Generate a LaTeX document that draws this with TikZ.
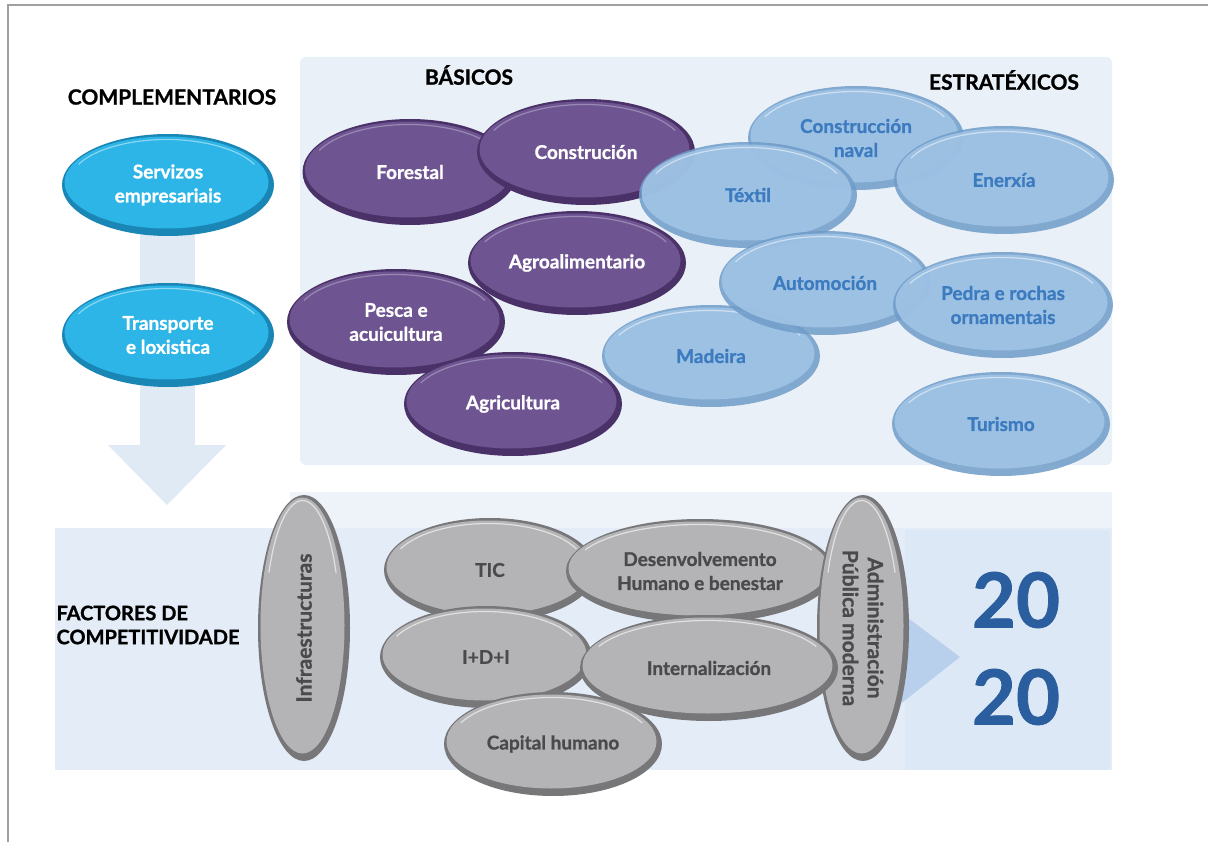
\documentclass[tikz,border=0pt]{standalone}
\usepackage{fontspec}
\setmainfont{Lato}[BoldFeatures={FakeBold=1.0}]
\usetikzlibrary{shapes.geometric}
\definecolor{cyrimc}{HTML}{1A86B5}
\definecolor{cymainc}{HTML}{2CB5E6}
\definecolor{purimc}{HTML}{4A3268}
\definecolor{pumainc}{HTML}{6E5592}
\definecolor{lbrimc}{HTML}{6F9CC8}
\definecolor{lbmainc}{HTML}{A3C6E7}
\definecolor{lbtxtc}{HTML}{3C7BC0}
\definecolor{grrimc}{HTML}{77777A}
\definecolor{grmainc}{HTML}{B4B4B7}
\definecolor{grtxtc}{HTML}{4A4A4D}
\definecolor{panelc}{HTML}{E9F0F8}
\definecolor{shaftc}{HTML}{E0EAF5}
\definecolor{bandc}{HTML}{E3ECF7}
\definecolor{bandtopc}{HTML}{EEF3FA}
\definecolor{boxc}{HTML}{DCE8F6}
\definecolor{tric}{HTML}{B8D0EC}
\definecolor{yearc}{HTML}{2B5E9E}
\definecolor{framec}{HTML}{A0A0A0}
\tikzset{
  etxt/.style={font=\fontsize{19}{24}\selectfont\bfseries, align=center},
  cyrim/.style={fill=cyrimc},
  cymain/.style={fill=cymainc},
  cyhl/.style={draw=white, draw opacity=.45, line width=1.2},
  cytxt/.style={etxt, text=white},
  purim/.style={fill=purimc},
  pumain/.style={fill=pumainc},
  puhl/.style={draw=white, draw opacity=.3, line width=1.2},
  putxt/.style={etxt, text=white},
  lbrim/.style={fill=lbrimc, fill opacity=.85},
  lbmain/.style={fill=lbmainc, fill opacity=.85},
  lbhl/.style={draw=white, draw opacity=.5, line width=1.2},
  lbtxt/.style={etxt, text=lbtxtc},
  grrim/.style={fill=grrimc},
  grmain/.style={fill=grmainc},
  grhl/.style={draw=white, draw opacity=.6, line width=1.2},
  grtxt/.style={etxt, text=grtxtc},
  vtxt/.style={font=\fontsize{21}{25}\selectfont\bfseries},
  head/.style={text=black, font=\fontsize{21}{24}\selectfont\bfseries, align=left},
  year/.style={text=yearc, font=\fontsize{76}{80}\selectfont\bfseries},
}
% #1 name, #2 family, #3 x, #4 y, #5 width, #6 height, #7 text, #8 node options
\newcommand\blob[8]{%
  \fill[#2rim] (#3,#4) ellipse [x radius=#5/2, y radius=#6/2];
  \fill[#2main] (#3-1.5,#4-2.5) ellipse [x radius=#5/2-4, y radius=#6/2-5];
  \draw[#2hl] (#3-1.5,#4-2.5) ++(205:{#5/2-9} and {#6/2-8}) arc[start angle=205, end angle=335, x radius=#5/2-9, y radius=#6/2-8];
  \node[#2txt,#8] (#1) at (#3,#4) {#7};
}
\begin{document}
\begin{tikzpicture}[x=1pt,y=-1pt]
\useasboundingbox (0,0) rectangle (1208,842);
\fill[white] (0,0) rectangle (1208,842);
% frame
\draw[framec, line width=1.5] (8,842) -- (8,5) -- (1208,5);
% panels
\fill[panelc, rounded corners=6] (300,57) rectangle (1112,465);
\fill[bandtopc] (290,492) rectangle (1112,528);
\fill[bandc] (55,528) rectangle (1112,770);
\fill[boxc] (905,530) rectangle (1110,770);
\fill[tric] (880,597) -- (960,657) -- (880,720) -- cycle;
% left arrow
\fill[shaftc] (140,232) rectangle (195,447);
\fill[shaftc] (108,445) -- (226,445) -- (167,505) -- cycle;
% headings
\node[head] (hcomp) at (172,97) {COMPLEMENTARIOS};
\node[head] (hbas) at (469,75) {BÁSICOS};
\node[head] (hest) at (1004,80) {ESTRATÉXICOS};
\node[head, font=\fontsize{20}{24}\selectfont\bfseries, anchor=west] (hfac) at (53,625) {FACTORES DE\\COMPETITIVIDADE};
% complementarios
\blob{serv}{cy}{168}{185}{212}{102}{Servizos\\empresariais}{}
\blob{trans}{cy}{168}{335}{212}{104}{Transporte\\e loxistica}{}
% basicos
\blob{fore}{pu}{410}{172}{215}{106}{Forestal}{}
\blob{cons}{pu}{586}{152}{218}{106}{Construción}{}
\blob{agro}{pu}{577}{263}{218}{104}{Agroalimentario}{}
\blob{pesca}{pu}{396}{322}{218}{106}{Pesca e\\acuicultura}{}
\blob{agri}{pu}{513}{404}{218}{104}{Agricultura}{}
% estratexicos
\blob{naval}{lb}{856}{138}{216}{104}{Construcción\\naval}{}
\blob{text}{lb}{748}{195}{218}{106}{Téxtil}{}
\blob{ener}{lb}{1004}{180}{220}{108}{Enerxía}{}
\blob{madeira}{lb}{711}{356}{218}{102}{Madeira}{}
\blob{auto}{lb}{825}{283}{212}{104}{Automoción}{}
\blob{pedra}{lb}{1003}{305}{220}{106}{Pedra e rochas\\ornamentais}{}
\blob{tur}{lb}{1001}{424}{218}{104}{Turismo}{}
% factores
\blob{infra}{gr}{304}{628}{92}{266}{Infraestructuras}{vtxt, rotate=90}
\blob{tic}{gr}{490}{570}{212}{104}{TIC}{}
\blob{desen}{gr}{700}{571}{268}{104}{Desenvolvemento\\Humano e benestar}{}
\blob{admin}{gr}{863}{628}{92}{266}{Administración\\Pública moderna}{vtxt, rotate=-90}
\blob{imas}{gr}{486}{657}{212}{102}{I+D+I}{}
\blob{inter}{gr}{709}{668}{258}{106}{Internalización}{}
\blob{capital}{gr}{553}{744}{218}{104}{Capital humano}{}
% 2020
\node[year] (y1) at (1016,600) {20};
\node[year] (y2) at (1016,697) {20};
\end{tikzpicture}
\end{document}
